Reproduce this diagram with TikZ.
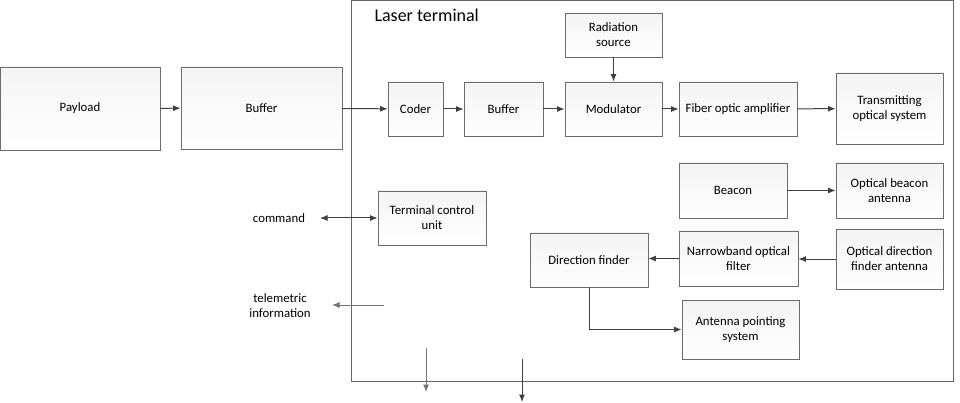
\documentclass[tikz,border=0pt]{standalone}
\usepackage{fontspec}
\setmainfont{Carlito}
\usetikzlibrary{arrows.meta,shadows}
\begin{document}
\begin{tikzpicture}[x=1pt,y=-1pt,
  box/.style={draw=gray!85!black, line width=0.8pt, top color=gray!9, bottom color=white,
    align=center, inner sep=2pt, font=\fontsize{12.8}{15}\selectfont,
    drop shadow={shadow xshift=1.2pt, shadow yshift=-1.2pt, fill=gray!40, opacity=0.5}},
  conn/.style={draw=black!75, line width=1pt, -{Latex[length=7.5pt,width=6pt]}},
  lbl/.style={align=center, font=\fontsize{12.8}{15}\selectfont},
]
\useasboundingbox (0,0) rectangle (960,403);
% frame
\draw[draw=gray!80!black, line width=0.9pt] (351,0.6) rectangle (953,381);
\node[anchor=west, font=\fontsize{18}{20}\selectfont] (title) at (371,15) {Laser terminal};
% boxes
\node[box, minimum width=160pt, minimum height=83pt] (pay) at (80,108.5) {Payload};
\node[box, minimum width=161pt, minimum height=82pt] (buf1) at (261.5,108) {Buffer};
\node[box, minimum width=55pt, minimum height=54pt] (cod) at (415.5,109) {Coder};
\node[box, minimum width=79pt, minimum height=54pt] (buf2) at (503.5,109) {Buffer};
\node[box, minimum width=97pt, minimum height=54pt] (mod) at (613.5,109) {Modulator};
\node[box, minimum width=97pt, minimum height=44pt] (rad) at (613.5,35) {Radiation\\source};
\node[box, minimum width=118pt, minimum height=54pt] (fib) at (738,109) {Fiber optic amplifier};
\node[box, minimum width=107pt, minimum height=71pt] (tos) at (889.5,108.5) {Transmitting\\optical system};
\node[box, minimum width=108pt, minimum height=55pt] (bea) at (733,190.5) {Beacon};
\node[box, minimum width=107pt, minimum height=55pt] (oba) at (889.5,190.5) {Optical beacon\\antenna};
\node[box, minimum width=107pt, minimum height=60pt] (odf) at (889.5,259) {Optical direction\\finder antenna};
\node[box, minimum width=119pt, minimum height=55pt] (nof) at (738.5,258.5) {Narrowband optical\\filter};
\node[box, minimum width=118pt, minimum height=54pt] (df) at (589,260) {Direction finder};
\node[box, minimum width=117pt, minimum height=59pt] (aps) at (740.5,329.5) {Antenna pointing\\system};
\node[box, minimum width=108pt, minimum height=54pt] (tcu) at (432,218) {Terminal control\\unit};
% labels
\node[lbl] (cmd) at (279,218) {command};
\node[lbl] (tel) at (280,306) {telemetric\\information};
% coordinates
\coordinate (cmdend) at (320,218);
\coordinate (tels) at (384,305);
\coordinate (tele) at (332,305);
\coordinate (d1s) at (426,348);
\coordinate (d1e) at (426,392);
\coordinate (d2s) at (522,359);
\coordinate (d2e) at (522,402);
% connectors
\draw[conn] (pay) -- (buf1);
\draw[conn] (buf1) -- (cod);
\draw[conn] (cod) -- (buf2);
\draw[conn] (buf2) -- (mod);
\draw[conn] (mod) -- (fib);
\draw[conn] (fib) -- (tos);
\draw[conn] (rad) -- (mod);
\draw[conn] (bea) -- (oba);
\draw[conn] (odf.west) -- (odf.west -| nof.east);
\draw[conn] (nof.west) -- (nof.west -| df.east);
\draw[conn] (df.south) |- (aps.west);
\draw[conn, {Latex[length=7.5pt,width=6pt]}-{Latex[length=7.5pt,width=6pt]}] (cmdend) -- (tcu.west);
\draw[conn, draw=gray!90!black] (tels) -- (tele);
\draw[conn, draw=gray!90!black] (d1s) -- (d1e);
\draw[conn] (d2s) -- (d2e);
\end{tikzpicture}
\end{document}
